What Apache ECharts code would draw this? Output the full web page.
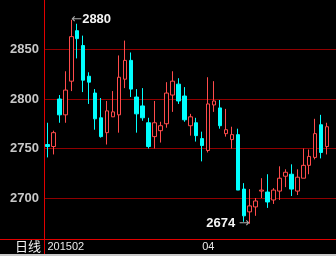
<!DOCTYPE html>
<html><head><meta charset="utf-8">
<script src="https://cdn.jsdelivr.net/npm/echarts@6/dist/echarts.min.js"></script>
<style>html,body{margin:0;padding:0;background:#000}#c{width:336px;height:256px}</style>
</head><body><div id="c"></div>
<script>
const xLabels = ['201502','','','','','','','','','','','','','','','','','','','','','','','','','','04','','','','','','','','','','','','','','','','','','','','','',''];
const opens  = [2754,2752,2800,2784,2818,2869,2854,2823,2806,2781,2766,2782,2784,2820,2839,2802,2793,2776,2762,2768,2775,2804,2815,2803,2773,2776,2760,2748,2794,2791,2765,2759,2764,2709,2686,2691,2707,2706,2698,2707,2722,2724,2707,2720,2733,2741,2774,2752];
const closes = [2752,2766,2784,2809,2863,2861,2819,2817,2780,2762,2788,2787,2822,2839,2810,2785,2781,2752,2776,2773,2806,2818,2798,2779,2782,2763,2753,2795,2798,2773,2769,2764,2708,2682,2692,2697,2708,2696,2708,2720,2726,2709,2721,2733,2742,2765,2746,2772];
const lows   = [2741,2744,2776,2776,2808,2841,2807,2795,2769,2761,2754,2782,2766,2811,2802,2766,2778,2750,2750,2756,2771,2787,2795,2777,2763,2757,2737,2746,2787,2770,2762,2750,2708,2676,2674,2682,2700,2690,2694,2698,2711,2702,2703,2720,2724,2739,2740,2744];
const highs  = [2776,2768,2804,2828,2880,2876,2864,2827,2810,2801,2798,2808,2844,2859,2847,2810,2811,2781,2798,2777,2817,2828,2821,2812,2785,2781,2767,2822,2818,2799,2790,2772,2770,2715,2709,2700,2720,2724,2710,2732,2729,2734,2729,2750,2749,2780,2784,2776];
const gridValues = [2700, 2750, 2800, 2850];
const yMin = 2650, yMax = 2900, yStep = 50;

const chart = echarts.init(document.getElementById('c'), null, {renderer: 'canvas'});
const data = opens.map((o, i) => [o, closes[i], lows[i], highs[i]]);
const RED = '#ff4b4b', CYAN = '#00ffff', FRAME = '#e00000', GRIDC = '#900000';
const option = {
  backgroundColor: '#000',
  animation: false,
  title: {text: '日线', left: 15, top: 240, padding: 0,
    textStyle: {color: '#f0f0f0', fontSize: 13, fontWeight: 'normal', fontFamily: 'Noto Sans CJK SC'}},
  grid: {left: 44.5, width: 294, top: -12.5, height: 260, containLabel: false},
  xAxis: {type: 'category', data: xLabels, boundaryGap: true, offset: -8.5,
    axisLine: {show: false}, axisTick: {show: false}, splitLine: {show: false},
    axisLabel: {interval: 0, align: 'left', margin: 2, color: '#e8e8e8', fontSize: 11, fontFamily: 'Liberation Sans'}},
  yAxis: {type: 'value', min: yMin, max: yMax, interval: yStep,
    axisLine: {show: false}, axisTick: {show: false}, splitLine: {show: false},
    axisLabel: {showMinLabel: false, showMaxLabel: false, margin: 5.5, color: '#c8c8c8', fontSize: 13, fontWeight: 'bold', fontFamily: 'Liberation Sans',
      formatter: v => String(v)}},
  graphic: [
    {type: 'line', shape: {x1: 0, y1: 239.5, x2: 336, y2: 239.5}, style: {stroke: FRAME, lineWidth: 1}, z: 100},
    {type: 'line', shape: {x1: 44.5, y1: 0, x2: 44.5, y2: 254}, style: {stroke: FRAME, lineWidth: 1}, z: 100},
    {type: 'rect', shape: {x: 0, y: 254, width: 336, height: 2}, style: {fill: '#c8c8c8'}, z: 100}
  ],
  series: [{
    type: 'candlestick', data: data, barWidth: 4,
    itemStyle: {color: '#000', color0: CYAN, borderColor: RED, borderColor0: CYAN, borderWidth: 1},
    markLine: {
      silent: true, symbol: ['none', 'none'], z: 1,
      label: {show: false},
      lineStyle: {color: GRIDC, type: 'solid', width: 1},
      emphasis: {disabled: true},
      data: gridValues.map(v => ({yAxis: v}))
    },
    markPoint: {
      symbol: 'circle', symbolSize: 0,
      label: {rich: {
        a: {color: '#a8a8a8', fontSize: 13, fontFamily: 'DejaVu Sans'},
        b: {color: '#f4f4f4', fontSize: 13, fontWeight: 'bold', fontFamily: 'Liberation Sans'}
      }},
      data: [
        {type: 'max', valueDim: 'highest', label: {position: 'right', distance: 0, formatter: p => '{a|←}{b|' + Math.round(p.value) + '}'}},
        {type: 'min', valueDim: 'lowest', label: {position: 'left', distance: 0, formatter: p => '{b|' + Math.round(p.value) + ' }{a|→}'}}
      ]
    }
  }]
};
chart.setOption(option);
</script></body></html>
